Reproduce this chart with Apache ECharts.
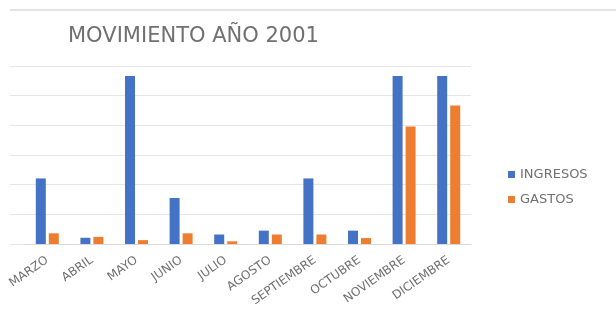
<!DOCTYPE html>
<html lang="es">
<head>
<meta charset="utf-8">
<title>MOVIMIENTO AÑO 2001</title>
<script src="https://cdn.jsdelivr.net/npm/echarts@6/dist/echarts.min.js"></script>
<style>
html, body { margin: 0; padding: 0; background: #fff; }
#main { width: 616px; height: 318px; }
</style>
</head>
<body>
<div id="main"></div>
<script>
// datos del grafico
var meses = ['MARZO', 'ABRIL', 'MAYO', 'JUNIO', 'JULIO', 'AGOSTO', 'SEPTIEMBRE', 'OCTUBRE', 'NOVIEMBRE', 'DICIEMBRE'];
var ingresos = [221, 21, 566, 155, 32, 45, 221, 45, 566, 566];
var gastos = [36, 24, 13, 36, 9, 32, 32, 20, 396, 467];

var gris = '#707070';
var fuente = '"DejaVu Sans", sans-serif';

var myChart = echarts.init(document.getElementById('main'));

var option = {
	animation: false,
	title: {
		text: 'MOVIMIENTO AÑO 2001',
		left: 63,
		top: 21,
		textStyle: { color: gris, fontSize: 21, fontWeight: 'normal', fontFamily: fuente }
	},
	legend: {
		orient: 'vertical',
		left: 503,
		top: 163,
		itemWidth: 7,
		itemHeight: 7,
		itemGap: 12,
		icon: 'rect',
		textStyle: { color: gris, fontSize: 13, fontFamily: fuente },
		data: ['INGRESOS', 'GASTOS']
	},
	graphic: [{
		type: 'line',
		shape: { x1: 10, y1: 10, x2: 616, y2: 10 },
		style: { stroke: '#e3e3e3', lineWidth: 2 }
	}],
	// grid 0: solo lineas de division, grid 1: barras
	grid: [
		{ left: 10, right: 145, top: 66, bottom: 74 },
		{ left: 25, right: 145, top: 66, bottom: 74 }
	],
	xAxis: [
		{ gridIndex: 0, type: 'category', data: meses, show: false },
		{
			gridIndex: 1,
			type: 'category',
			data: meses,
			axisTick: { show: false },
			axisLine: { lineStyle: { color: '#d9d9d9' } },
			axisLabel: { rotate: 35, color: gris, fontSize: 12, fontFamily: fuente, margin: 15, interval: 0 }
		}
	],
	yAxis: [
		{
			gridIndex: 0, type: 'value', min: 0, max: 600, interval: 100,
			axisLabel: { show: false }, axisLine: { show: false }, axisTick: { show: false },
			splitLine: { lineStyle: { color: '#e6e6e6' } }
		},
		{
			gridIndex: 1, type: 'value', min: 0, max: 600, interval: 100,
			show: false, splitLine: { show: false }
		}
	],
	series: [
		{
			name: 'INGRESOS', type: 'bar', xAxisIndex: 1, yAxisIndex: 1,
			data: ingresos, barWidth: 10, barGap: '30%',
			itemStyle: { color: '#4472C4' }
		},
		{
			name: 'GASTOS', type: 'bar', xAxisIndex: 1, yAxisIndex: 1,
			data: gastos, barWidth: 10,
			itemStyle: { color: '#ED7D31' }
		}
	]
};
myChart.setOption(option);
</script>
</body>
</html>
